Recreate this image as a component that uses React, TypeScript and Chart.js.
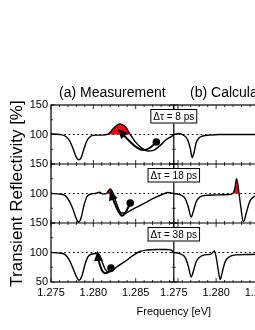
import React, { useEffect, useRef } from 'react';
import { Chart, registerables } from 'chart.js';

Chart.register(...registerables);

const FONT = '"Liberation Sans", Arial, Helvetica, sans-serif';

const panelTitles = ['(a) Measurement', '(b) Calculation'];
const delayLabels = ['\u0394\u03c4 = 8 ps', '\u0394\u03c4 = 18 ps', '\u0394\u03c4 = 38 ps'];
const xTickValues = [1.275, 1.28, 1.285];
const yTicksUpper = [100, 150];
const yTicksLower = [50, 100, 150];
const xMin = 1.275;
const xMax = 1.2895;
const yMin = 50;
const yMax = 150;
const baseline = 100;

// (a) Measurement, 8 ps
const measX8 = [1.275, 1.27603, 1.27671, 1.27717, 1.27763, 1.27797, 1.27825, 1.27854, 1.27888, 1.27922, 1.27968, 1.28025, 1.28105, 1.28174, 1.28242, 1.28311, 1.28379, 1.28436, 1.28493, 1.28573, 1.28642, 1.2871, 1.28779, 1.28858, 1.2895];
const measY8 = [101, 100, 97, 90, 75, 62, 57, 60, 75, 89, 97, 99, 99, 100.5, 111, 118, 113, 100, 88, 77, 72, 73, 80, 91, 99];
const redX8 = [1.28174, 1.28242, 1.28311, 1.28379, 1.28436];
const redY8 = [100, 111, 118, 113, 100];
const arrowX8 = [1.28744, 1.28664, 1.28584, 1.28505, 1.28425, 1.28356, 1.28311];
const arrowY8 = [87.3, 77.1, 73.7, 78.8, 89.0, 99.2, 105.9];

// (a) Measurement, 18 ps
const measX18 = [1.275, 1.27603, 1.27671, 1.27717, 1.27763, 1.27797, 1.27825, 1.27854, 1.27888, 1.27922, 1.27968, 1.28025, 1.28071, 1.28116, 1.28156, 1.28196, 1.28236, 1.28265, 1.28299, 1.28333, 1.28379, 1.28447, 1.28539, 1.2863, 1.28721, 1.28813, 1.28881, 1.2895];
const measY18 = [100, 99, 96, 87, 72, 58, 51.5, 58, 79, 94, 99, 100, 102, 99, 100, 107.6, 100, 87, 73.7, 66.9, 66.9, 72, 78.8, 85.6, 92.4, 98.3, 101.7, 100];
const redX18 = [1.28156, 1.28196, 1.28236];
const redY18 = [100, 107.6, 100];
const arrowX18 = [1.28436, 1.28402, 1.28368, 1.28333, 1.28288, 1.28242, 1.28208];
const arrowY18 = [83.9, 73.7, 65.3, 62.7, 71.8, 87.1, 100.8];

// (a) Measurement, 38 ps
const measX38 = [1.275, 1.27603, 1.27671, 1.27717, 1.27763, 1.27797, 1.27831, 1.27865, 1.279, 1.27934, 1.27979, 1.28037, 1.28071, 1.28105, 1.28139, 1.28174, 1.28219, 1.28288, 1.28368, 1.28459, 1.2855, 1.2863, 1.28744, 1.28858, 1.28916, 1.2895];
const measY38 = [100, 99, 96, 87, 72, 60, 53, 60, 79, 92, 97.5, 98.3, 96, 84, 72, 66.9, 68.6, 77, 84, 94, 101.7, 104.2, 105, 105, 104.5, 100];
const arrowX38 = [1.28208, 1.28162, 1.28116, 1.28082, 1.28059, 1.28054];
const arrowY38 = [73.7, 65.3, 66.9, 77.1, 89.0, 97.5];

// (b) Calculation, 8 ps
const calcX8 = [1.275, 1.27557, 1.27614, 1.2766, 1.27694, 1.27717, 1.2774, 1.27763, 1.27797, 1.27842, 1.27922, 1.28037, 1.28436, 1.2895];
const calcY8 = [100, 101.7, 99, 92, 77, 61, 70, 85.6, 94, 97.5, 99, 100, 100, 100];

// (b) Calculation, 18 ps
const calcX18 = [1.275, 1.2758, 1.27637, 1.27671, 1.27706, 1.27728, 1.27763, 1.27808, 1.27865, 1.2798, 1.28151, 1.28196, 1.28219, 1.28242, 1.28265, 1.28288, 1.28322, 1.28356, 1.2839, 1.28436, 1.2855, 1.2895];
const calcY18 = [100, 97.5, 90.7, 77, 60, 68.6, 85.6, 94, 96.6, 97.5, 98.3, 100, 107.6, 125, 106, 80.5, 52, 67, 84, 94, 97.5, 99];
const calcRedX18 = [1.28196, 1.28219, 1.28242, 1.28265, 1.28271];
const calcRedY18 = [100, 107.6, 125, 106, 100];

// (b) Calculation, 38 ps
const calcX38 = [1.275, 1.2758, 1.27637, 1.27671, 1.27706, 1.27728, 1.27763, 1.27808, 1.27865, 1.27934, 1.2798, 1.28002, 1.28025, 1.28048, 1.28071, 1.28105, 1.28151, 1.28231, 1.28379, 1.2895];
const calcY38 = [100, 97.5, 91, 77, 58.5, 66.9, 84, 92.4, 96, 97, 102.5, 91, 70, 54, 66, 84, 92.4, 96, 96.6, 98.3];

const pts = (xs: number[], ys: number[]) => xs.map((x, i) => ({ x, y: ys[i] }));

const curve = (xs: number[], ys: number[], xAxisID: string, yAxisID: string) => ({
  data: pts(xs, ys),
  xAxisID,
  yAxisID,
  borderColor: '#000',
  borderWidth: 1.4,
  pointRadius: 0,
  fill: false,
  cubicInterpolationMode: 'monotone',
  order: 1,
});

const redFill = (xs: number[], ys: number[], xAxisID: string, yAxisID: string) => ({
  data: pts(xs, ys),
  xAxisID,
  yAxisID,
  borderColor: 'rgba(0,0,0,0)',
  borderWidth: 0,
  backgroundColor: '#ff0000',
  pointRadius: 0,
  fill: { value: baseline },
  cubicInterpolationMode: 'monotone',
  order: 3,
});

const arrow = (xs: number[], ys: number[], yAxisID: string) => ({
  data: pts(xs, ys),
  xAxisID: 'xa',
  yAxisID,
  borderColor: '#000',
  borderWidth: 2,
  pointRadius: xs.map((_, i) => (i === 0 ? 3.8 : 0)),
  pointBackgroundColor: '#000',
  pointBorderColor: '#000',
  pointBorderWidth: 0,
  tension: 0.4,
  fill: false,
  order: 0,
  isArrow: true,
});

const decor = {
  id: 'decor',
  beforeDatasetsDraw(chart: any) {
    const ctx = chart.ctx;
    const { left, right } = chart.chartArea;
    ctx.save();
    ctx.strokeStyle = '#000';
    ctx.lineWidth = 1.2;
    ctx.setLineDash([1.6, 2.8]);
    ['y1', 'y2', 'y3'].forEach((id) => {
      const y = chart.scales[id].getPixelForValue(baseline);
      ctx.beginPath();
      ctx.moveTo(left, y);
      ctx.lineTo(right, y);
      ctx.stroke();
    });
    ctx.restore();
  },
  afterDatasetsDraw(chart: any) {
    const ctx = chart.ctx;
    const xa = chart.scales.xa;
    const xb = chart.scales.xb;
    const ys = ['y1', 'y2', 'y3'].map((id) => chart.scales[id]);
    const { left, right, top, bottom } = chart.chartArea;
    ctx.save();

    // arrowheads
    chart.data.datasets.forEach((ds: any, i: number) => {
      if (!ds.isArrow) return;
      const els = chart.getDatasetMeta(i).data;
      const end = els[els.length - 1];
      const prev = els[els.length - 2];
      let dx = end.x - (end.cp1x ?? prev.x);
      let dy = end.y - (end.cp1y ?? prev.y);
      if (Math.hypot(dx, dy) < 0.5) {
        dx = end.x - prev.x;
        dy = end.y - prev.y;
      }
      const len = Math.hypot(dx, dy) || 1;
      const ux = dx / len;
      const uy = dy / len;
      const tipX = end.x + ux * 3;
      const tipY = end.y + uy * 3;
      const bx = tipX - ux * 10;
      const by = tipY - uy * 10;
      ctx.fillStyle = '#000';
      ctx.beginPath();
      ctx.moveTo(tipX, tipY);
      ctx.lineTo(bx - uy * 4.5, by + ux * 4.5);
      ctx.lineTo(bx + uy * 4.5, by - ux * 4.5);
      ctx.closePath();
      ctx.fill();
    });

    // frame
    ctx.strokeStyle = '#000';
    ctx.lineWidth = 1.2;
    ctx.strokeRect(left, top, right - left, bottom - top);
    ctx.beginPath();
    for (let i = 0; i < ys.length - 1; i++) {
      ctx.moveTo(left, ys[i].bottom);
      ctx.lineTo(right, ys[i].bottom);
    }
    ctx.moveTo(xa.right, top);
    ctx.lineTo(xa.right, bottom);
    ctx.stroke();

    // ticks
    ctx.lineWidth = 0.8;
    ctx.beginPath();
    const n = Math.round((xMax - xMin) / 0.001);
    for (const xs of [xa, xb]) {
      for (let k = 0; k <= n; k++) {
        const px = xs.getPixelForValue(xMin + k * 0.001);
        const L = k % 5 === 0 ? 4 : 2;
        for (const s of ys) {
          ctx.moveTo(px, s.top);
          ctx.lineTo(px, s.top + L);
          ctx.moveTo(px, s.bottom);
          ctx.lineTo(px, s.bottom - L);
        }
      }
    }
    for (const s of ys) {
      for (let v = yMin; v <= yMax; v += 25) {
        const py = s.getPixelForValue(v);
        const L = v % 50 === 0 ? 4 : 2;
        for (const xs of [xa, xb]) {
          ctx.moveTo(xs.left, py);
          ctx.lineTo(xs.left + L, py);
          ctx.moveTo(xs.right, py);
          ctx.lineTo(xs.right - L, py);
        }
      }
    }
    ctx.stroke();

    // delay labels
    ctx.font = `10px ${FONT}`;
    ctx.textAlign = 'center';
    ctx.textBaseline = 'middle';
    ys.forEach((s: any, i: number) => {
      const text = delayLabels[i];
      const w = ctx.measureText(text).width + 6;
      const h = 14.5;
      const bx = xa.right - w / 2;
      const by = s.top + 4;
      ctx.fillStyle = '#fff';
      ctx.fillRect(bx, by, w, h);
      ctx.strokeStyle = '#000';
      ctx.lineWidth = 1;
      ctx.strokeRect(bx + 0.5, by + 0.5, w - 1, h - 1);
      ctx.fillStyle = '#000';
      ctx.fillText(text, xa.right, by + h / 2 + 0.5);
    });

    // panel titles
    ctx.font = `14px ${FONT}`;
    ctx.textBaseline = 'alphabetic';
    ctx.fillStyle = '#000';
    ctx.fillText(panelTitles[0], (xa.left + xa.right) / 2, top - 8.5);
    ctx.fillText(panelTitles[1], (xb.left + xb.right) / 2, top - 8.5);

    // axis titles
    ctx.font = `11px ${FONT}`;
    ctx.textBaseline = 'middle';
    ctx.fillText('Frequency [eV]', xa.right, bottom + 30);

    ctx.save();
    ctx.translate(17, (top + bottom) / 2);
    ctx.rotate(-Math.PI / 2);
    ctx.font = `17px ${FONT}`;
    ctx.fillText('Transient Reflectivity [%]', 0, 0);
    ctx.restore();

    ctx.restore();
  },
};

const xScale = () => ({
  type: 'linear',
  position: 'bottom',
  stack: 'x',
  stackWeight: 1,
  min: xMin,
  max: xMax,
  grid: { display: false, drawTicks: false },
  border: { display: false },
  ticks: {
    autoSkip: false,
    maxRotation: 0,
    minRotation: 0,
    padding: 4,
    color: '#000',
    font: { size: 11, family: FONT },
    callback: (v: any) => Number(v).toFixed(3),
  },
  afterBuildTicks: (s: any) => {
    s.ticks = xTickValues.map((value) => ({ value }));
  },
  afterFit: (s: any) => {
    s.height = 20;
  },
});

const yScale = (tickValues: number[]) => ({
  type: 'linear',
  position: 'left',
  stack: 'y',
  stackWeight: 1,
  min: yMin,
  max: yMax,
  grid: { display: false, drawTicks: false },
  border: { display: false },
  ticks: {
    padding: 3,
    color: '#000',
    font: { size: 11, family: FONT },
  },
  afterBuildTicks: (s: any) => {
    s.ticks = tickValues.map((value) => ({ value }));
  },
  afterFit: (s: any) => {
    s.width = 22;
  },
});

export default function App() {
  const ref = useRef<HTMLCanvasElement | null>(null);

  useEffect(() => {
    const canvas = ref.current;
    if (!canvas) return;
    const datasets: any[] = [
      arrow(arrowX8, arrowY8, 'y1'),
      arrow(arrowX18, arrowY18, 'y2'),
      arrow(arrowX38, arrowY38, 'y3'),
      curve(measX8, measY8, 'xa', 'y1'),
      curve(measX18, measY18, 'xa', 'y2'),
      curve(measX38, measY38, 'xa', 'y3'),
      curve(calcX8, calcY8, 'xb', 'y1'),
      curve(calcX18, calcY18, 'xb', 'y2'),
      curve(calcX38, calcY38, 'xb', 'y3'),
      redFill(redX8, redY8, 'xa', 'y1'),
      redFill(redX18, redY18, 'xa', 'y2'),
      redFill(calcRedX18, calcRedY18, 'xb', 'y2'),
    ];
    const chart = new Chart(canvas, {
      type: 'line',
      data: { datasets },
      options: {
        responsive: false,
        maintainAspectRatio: false,
        animation: false,
        devicePixelRatio: 1,
        layout: { padding: { left: 29, right: 7, top: 105, bottom: 28 } },
        plugins: { legend: { display: false }, tooltip: { enabled: false } },
        scales: {
          // left-side stacked axes are placed in reverse order: last defined goes on top
          y3: yScale(yTicksLower),
          y2: yScale(yTicksUpper),
          y1: yScale(yTicksUpper),
          xa: xScale(),
          xb: xScale(),
        },
      } as any,
      plugins: [decor as any],
    });
    return () => chart.destroy();
  }, []);

  return (
    <div
      style={{
        position: 'absolute',
        left: 0,
        top: 0,
        width: 255,
        height: 330,
        overflow: 'hidden',
        background: '#fff',
      }}
    >
      <canvas ref={ref} width={312} height={330} style={{ display: 'block', width: 312, height: 330 }} />
    </div>
  );
}
